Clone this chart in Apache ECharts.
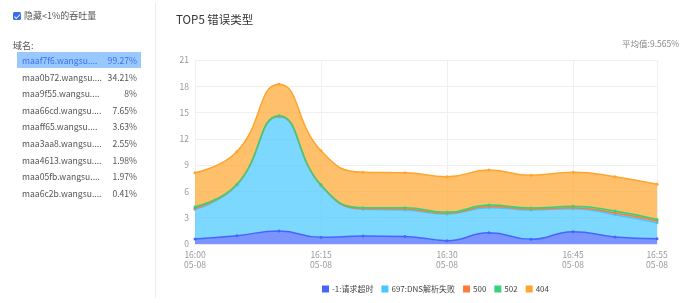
<!DOCTYPE html>
<html><head><meta charset="utf-8">
<script src="https://cdn.jsdelivr.net/npm/echarts@6/dist/echarts.min.js"></script>
<style>
html,body{margin:0;padding:0;background:#fff;font-family:"Noto Sans CJK SC","Noto Sans",sans-serif;}
#wrap{position:relative;width:690px;height:303px;overflow:hidden;}
#chart{position:absolute;left:0;top:0;width:690px;height:303px;}
#side{position:absolute;left:0;top:0;width:156px;height:303px;}
#sep{position:absolute;left:155px;top:3px;width:1px;height:295px;background:#ececec;}
.cb{position:absolute;left:13px;top:12px;width:8px;height:8px;background:#3a6cf0;border-radius:1.5px;}
.cb:after{content:"";position:absolute;left:2.5px;top:0.5px;width:2px;height:4.5px;border:solid #fff;border-width:0 1.3px 1.3px 0;transform:rotate(45deg);}
.cbl{position:absolute;left:24px;top:9px;font-size:9px;color:#555;line-height:14px;}
.dn{position:absolute;left:13px;top:39px;font-size:9px;color:#555;line-height:14px;}
.row{position:absolute;left:17px;width:124px;height:16px;font-size:8.6px;color:#555;line-height:16px;}
.row .n{position:absolute;left:5px;}
.row .p{position:absolute;right:4px;}
.row.sel{background:#99c8ff;color:#3f6ff0;}
</style></head>
<body><div id="wrap"><div id="chart"></div><div id="side"></div><div id="sep"></div></div>
<script>
var domains = ['maaf7f6.wangsu....','maa0b72.wangsu....','maa9f55.wangsu....','maa66cd.wangsu....','maaff65.wangsu....','maa3aa8.wangsu....','maa4613.wangsu....','maa05fb.wangsu....','maa6c2b.wangsu....'];
var domainPct = ['99.27%','34.21%','8%','7.65%','3.63%','2.55%','1.98%','1.97%','0.41%'];
var times = ['16:00','16:05','16:10','16:15','16:20','16:25','16:30','16:35','16:40','16:45','16:50','16:55'];
var dateLabel = '05-08';
var seriesNames = ['-1:请求超时','697:DNS解析失败','500','502','404'];
var sTimeout = [0.57,0.95,1.48,0.76,0.91,0.87,0.38,1.29,0.53,1.41,0.80,0.61];
var sDns = [3.39,5.78,13.05,5.90,3.05,3.01,3.04,2.86,3.35,2.62,2.55,1.82];
var s500 = [0.12,0.05,0.06,0.05,0.08,0.12,0.08,0.12,0.10,0.10,0.18,0.22];
var s502 = [0.18,0.05,0.05,0.04,0.11,0.15,0.11,0.18,0.13,0.17,0.24,0.16];
var s404 = [3.88,3.73,3.58,3.88,4.03,3.99,4.07,3.99,3.73,3.88,3.91,4.00];
var yTicks = [0,3,6,9,12,15,18,21];
var avgText = '平均值:9.565%';
var titleText = 'TOP5 错误类型';
var hideText = '隐藏<1%的吞吐量';
var domainTitle = '域名:';

(function(){
  var side = document.getElementById('side');
  var html = '<div class="cb"></div><div class="cbl">'+hideText.replace('<','&lt;')+'</div><div class="dn">'+domainTitle+'</div>';
  for (var i=0;i<domains.length;i++){
    var rowTop = 52 + i*16.6;
    html += '<div class="row'+(i===0?' sel':'')+'" style="top:'+rowTop+'px"><span class="n">'+domains[i]+'</span><span class="p">'+domainPct[i]+'</span></div>';
  }
  side.innerHTML = html;
})();

var colors = ['#4466ff','#45c8ff','#ff7b3a','#35d27a','#ffa52e'];
var dataArr = [sTimeout,sDns,s500,s502,s404];
var showIdx = function(i){ return i%3===0 || i===times.length-1; };
var series = seriesNames.map(function(n,k){
  return {
    name:n, type:'line', stack:'total', smooth:true, data:dataArr[k],
    symbol:'circle', symbolSize:3, showSymbol:true,
    lineStyle:{width:1.5,color:colors[k]},
    itemStyle:{color:colors[k]},
    areaStyle:{color:colors[k],opacity:0.7}
  };
});
var chart = echarts.init(document.getElementById('chart'),null,{renderer:'canvas'});
chart.setOption({
  animation:false,
  color:colors,
  title:[
    {text:titleText,left:171,top:9,textStyle:{fontSize:11.5,fontWeight:'normal',color:'#333',fontFamily:'Noto Sans CJK SC'}},
    {text:avgText,right:6,top:35,textStyle:{fontSize:8.5,fontWeight:'normal',color:'#888',fontFamily:'Noto Sans CJK SC'}}
  ],
  legend:{data:seriesNames,left:317,top:280,itemWidth:7,itemHeight:7,itemGap:8,icon:'rect',
    textStyle:{fontSize:8,color:'#444',fontFamily:'Noto Sans CJK SC',padding:[0,0,0,-2]}},
  grid:{left:195,right:33,top:60,bottom:59},
  xAxis:{type:'category',boundaryGap:false,data:times,
    axisLine:{lineStyle:{color:'#e8e8e8'}},
    axisTick:{show:false},
    axisLabel:{interval:function(i){return showIdx(i);},formatter:function(v){return v+'\n'+dateLabel;},color:'#999',fontSize:8.5,lineHeight:10,margin:6,fontFamily:'Noto Sans CJK SC'},
    splitLine:{show:true,interval:function(i){return showIdx(i);},lineStyle:{color:'#f0f0f0'}}
  },
  yAxis:{type:'value',min:0,max:21,interval:3,
    axisLine:{show:true,lineStyle:{color:'#f0f0f0'}},
    axisTick:{show:false},
    axisLabel:{color:'#999',fontSize:8.5,margin:6,fontFamily:'Noto Sans CJK SC'},
    splitLine:{lineStyle:{color:'#f0f0f0'}}
  },
  series:series
});
</script></body></html>
